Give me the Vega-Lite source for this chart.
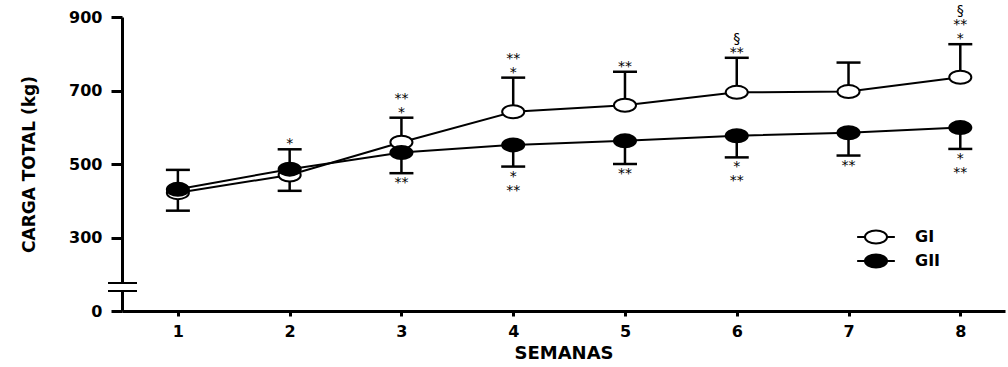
{
  "$schema": "https://vega.github.io/schema/vega-lite/v6.json",
  "width": 883,
  "height": 294,
  "autosize": {"type": "none"},
  "padding": {"left": 122, "top": 17, "right": 3, "bottom": 56},
  "background": "white",
  "config": {
    "view": {"stroke": null},
    "font": "DejaVu Sans"
  },
  "data": {
    "values": [
      {"semana": 1, "grupo": "GI", "media": 422, "lim": 484, "nota1": "", "nota2": "", "nota3": ""},
      {"semana": 2, "grupo": "GI", "media": 470, "lim": 540, "nota1": "*", "nota2": "", "nota3": ""},
      {"semana": 3, "grupo": "GI", "media": 559, "lim": 626, "nota1": "*", "nota2": "**", "nota3": ""},
      {"semana": 4, "grupo": "GI", "media": 642, "lim": 735, "nota1": "*", "nota2": "**", "nota3": ""},
      {"semana": 5, "grupo": "GI", "media": 660, "lim": 751, "nota1": "**", "nota2": "", "nota3": ""},
      {"semana": 6, "grupo": "GI", "media": 695, "lim": 789, "nota1": "**", "nota2": "§", "nota3": ""},
      {"semana": 7, "grupo": "GI", "media": 697, "lim": 776, "nota1": "", "nota2": "", "nota3": ""},
      {"semana": 8, "grupo": "GI", "media": 736, "lim": 826, "nota1": "*", "nota2": "**", "nota3": "§"},
      {"semana": 1, "grupo": "GII", "media": 431, "lim": 373, "nota1": "", "nota2": "", "nota3": ""},
      {"semana": 2, "grupo": "GII", "media": 486, "lim": 427, "nota1": "", "nota2": "", "nota3": ""},
      {"semana": 3, "grupo": "GII", "media": 531, "lim": 475, "nota1": "**", "nota2": "", "nota3": ""},
      {"semana": 4, "grupo": "GII", "media": 552, "lim": 493, "nota1": "*", "nota2": "**", "nota3": ""},
      {"semana": 5, "grupo": "GII", "media": 563, "lim": 500, "nota1": "**", "nota2": "", "nota3": ""},
      {"semana": 6, "grupo": "GII", "media": 577, "lim": 518, "nota1": "*", "nota2": "**", "nota3": ""},
      {"semana": 7, "grupo": "GII", "media": 585, "lim": 523, "nota1": "**", "nota2": "", "nota3": ""},
      {"semana": 8, "grupo": "GII", "media": 599, "lim": 541, "nota1": "*", "nota2": "**", "nota3": ""}
    ]
  },
  "encoding": {
    "x": {
      "field": "semana",
      "type": "quantitative",
      "scale": {"domain": [0.5, 8.4], "nice": false, "zero": false},
      "axis": {
        "values": [1, 2, 3, 4, 5, 6, 7, 8],
        "title": "SEMANAS",
        "titleFont": "DejaVu Sans",
        "titleFontSize": 18,
        "titleFontWeight": "bold",
        "titleColor": "black",
        "titlePadding": 5,
        "labelFont": "DejaVu Sans",
        "labelFontSize": 16,
        "labelFontWeight": "bold",
        "labelColor": "black",
        "labelPadding": 7,
        "labelFlush": false,
        "domainColor": "black",
        "domainWidth": 3,
        "tickColor": "black",
        "tickWidth": 3,
        "tickSize": 5,
        "grid": false
      }
    }
  },
  "layer": [
    {
      "mark": {"type": "rule", "color": "black", "strokeWidth": 2.5},
      "encoding": {
        "y": {
          "field": "media",
          "type": "quantitative",
          "scale": {"domain": [100, 900], "nice": false, "zero": false},
          "axis": {
            "values": [100, 300, 500, 700, 900],
            "labelExpr": "datum.value == 100 ? '0' : datum.label",
            "title": "CARGA TOTAL (kg)",
            "titleFont": "DejaVu Sans",
            "titleFontSize": 17,
            "titleFontWeight": "bold",
            "titleColor": "black",
            "titlePadding": 30,
            "labelFont": "DejaVu Sans",
            "labelFontSize": 16,
            "labelFontWeight": "bold",
            "labelColor": "black",
            "labelPadding": 9,
            "labelFlush": false,
            "domainColor": "black",
            "domainWidth": 3,
            "tickColor": "black",
            "tickWidth": 3,
            "tickSize": 11,
            "grid": false
          }
        },
        "y2": {"field": "lim"}
      }
    },
    {
      "mark": {"type": "tick", "orient": "horizontal", "color": "black", "thickness": 2.5, "size": 24, "opacity": 1},
      "encoding": {
        "y": {"field": "lim", "type": "quantitative"}
      }
    },
    {
      "mark": {"type": "line", "color": "black", "strokeWidth": 2},
      "encoding": {
        "y": {"field": "media", "type": "quantitative"},
        "detail": {"field": "grupo"}
      }
    },
    {
      "mark": {
        "type": "point",
        "filled": false,
        "stroke": "black",
        "strokeWidth": 2,
        "size": 169,
        "opacity": 1,
        "shape": "M-1.7,0A1.7,1,0,1,0,1.7,0A1.7,1,0,1,0,-1.7,0Z"
      },
      "encoding": {
        "y": {"field": "media", "type": "quantitative"},
        "fill": {
          "field": "grupo",
          "type": "nominal",
          "scale": {"domain": ["GI", "GII"], "range": ["white", "black"]},
          "legend": {
            "orient": "none",
            "legendX": 746,
            "legendY": 212,
            "title": null,
            "padding": 0,
            "symbolType": "M-2.9,0H-1.7M1.7,0H2.9M-1.7,0A1.7,1,0,1,0,1.7,0A1.7,1,0,1,0,-1.7,0Z",
            "symbolSize": 169,
            "symbolStrokeColor": "black",
            "symbolStrokeWidth": 2,
            "symbolOpacity": 1,
            "labelFont": "DejaVu Sans",
            "labelFontSize": 16,
            "labelFontWeight": "bold",
            "labelColor": "black",
            "labelOffset": 31,
            "rowPadding": 2
          }
        }
      }
    },
    {
      "transform": [{"filter": "datum.grupo == 'GI'"}],
      "mark": {"type": "text", "baseline": "alphabetic", "align": "center", "dy": -1, "fontSize": 14, "color": "black"},
      "encoding": {
        "y": {"field": "lim", "type": "quantitative"},
        "text": {"field": "nota1"}
      }
    },
    {
      "transform": [{"filter": "datum.grupo == 'GI'"}],
      "mark": {"type": "text", "baseline": "alphabetic", "align": "center", "dy": -15, "fontSize": 14, "color": "black"},
      "encoding": {
        "y": {"field": "lim", "type": "quantitative"},
        "text": {"field": "nota2"}
      }
    },
    {
      "transform": [{"filter": "datum.grupo == 'GI'"}],
      "mark": {"type": "text", "baseline": "alphabetic", "align": "center", "dy": -29, "fontSize": 14, "color": "black"},
      "encoding": {
        "y": {"field": "lim", "type": "quantitative"},
        "text": {"field": "nota3"}
      }
    },
    {
      "transform": [{"filter": "datum.grupo == 'GII'"}],
      "mark": {"type": "text", "baseline": "top", "align": "center", "dy": 3, "fontSize": 14, "color": "black"},
      "encoding": {
        "y": {"field": "lim", "type": "quantitative"},
        "text": {"field": "nota1"}
      }
    },
    {
      "transform": [{"filter": "datum.grupo == 'GII'"}],
      "mark": {"type": "text", "baseline": "top", "align": "center", "dy": 17, "fontSize": 14, "color": "black"},
      "encoding": {
        "y": {"field": "lim", "type": "quantitative"},
        "text": {"field": "nota2"}
      }
    },
    {
      "mark": {"type": "rule", "color": "white", "strokeWidth": 5},
      "encoding": {
        "x": {"datum": 0.5},
        "y": {"datum": 155},
        "y2": {"datum": 175}
      }
    },
    {
      "mark": {"type": "rule", "color": "black", "strokeWidth": 2},
      "encoding": {
        "x": {"datum": 0.375},
        "x2": {"datum": 0.634},
        "y": {"datum": 154.4}
      }
    },
    {
      "mark": {"type": "rule", "color": "black", "strokeWidth": 2},
      "encoding": {
        "x": {"datum": 0.375},
        "x2": {"datum": 0.634},
        "y": {"datum": 176.2}
      }
    }
  ]
}
